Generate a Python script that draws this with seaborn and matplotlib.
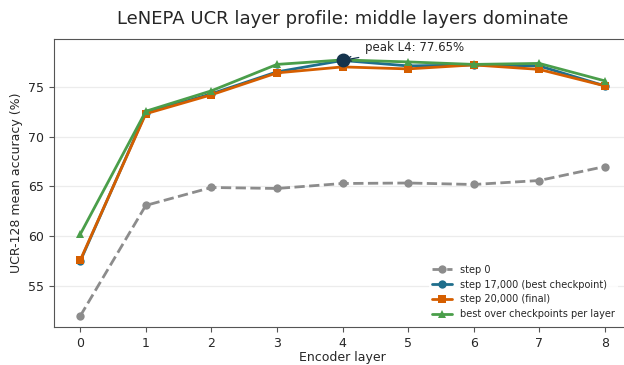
import numpy as np
import pandas as pd
import seaborn as sns
from matplotlib import pyplot as plt

layers = [0, 1, 2, 3, 4, 5, 6, 7, 8]
step0 = [52.0, 63.1, 64.9, 64.8, 65.3, 65.35, 65.2, 65.6, 67.0]
step17k = [57.5, 72.4, 74.3, 76.5, 77.65, 77.1, 77.2, 77.1, 75.1]
step20k = [57.6, 72.3, 74.2, 76.4, 77.0, 76.8, 77.2, 76.75, 75.1]
best_per_layer = [60.2, 72.55, 74.6, 77.25, 77.7, 77.5, 77.25, 77.35, 75.6]

series = [
    ("step 0", step0, "#8c8c8c", "o", "--"),
    ("step 17,000 (best checkpoint)", step17k, "#1f6e8c", "o", "-"),
    ("step 20,000 (final)", step20k, "#d55e00", "s", "-"),
    ("best over checkpoints per layer", best_per_layer, "#4a9e4a", "^", "-"),
]

sns.set_style("ticks")
plt.rcParams['font.family'] = ['DejaVu Sans']

fig = plt.figure(figsize=(6.24, 3.65), dpi=100)
ax = fig.add_axes([54 / 624, 38 / 365, 577 / 624, 288 / 365])

for name, vals, col, mk, ls in series:
    df = pd.DataFrame({"layer": layers, "acc": vals})
    sns.lineplot(data=df, x="layer", y="acc", ax=ax, color=col, marker=mk,
                 linestyle=ls, linewidth=2, markersize=6,
                 markeredgewidth=0, label=name)

# peak marker
peak_i = int(np.argmax(step17k))
ax.plot(layers[peak_i], step17k[peak_i], "o", color="#14334d",
        markersize=9, zorder=5)
ax.annotate(f"peak L{layers[peak_i]}: {step17k[peak_i]:.2f}%",
            xy=(layers[peak_i], step17k[peak_i]),
            xytext=(4.34, 78.95), fontsize=8.5, va="center",
            arrowprops=dict(arrowstyle="->", color="#14334d", lw=0.9))

ax.set_xlim(-0.4, 8.4)
ax.set_ylim(50.9, 79.8)
ax.set_xticks(layers)
ax.set_yticks([55, 60, 65, 70, 75])
ax.grid(axis="y", color="#ececec", linewidth=0.9)
ax.set_axisbelow(True)
for s in ax.spines.values():
    s.set_color("#555555")
ax.spines["right"].set_color("#dddddd")
ax.tick_params(labelsize=9, color="#555555")
ax.set_xlabel("Encoder layer", fontsize=9, labelpad=1)
ax.set_ylabel("UCR-128 mean accuracy (%)", fontsize=9)
ax.set_title("LeNEPA UCR layer profile: middle layers dominate",
             fontsize=13, pad=11)

leg = ax.legend(loc="lower right", fontsize=7, frameon=True,
                bbox_to_anchor=(0.985, 0.0), borderaxespad=0.4)
leg.get_frame().set_edgecolor("none")
leg.get_frame().set_facecolor("white")

fig.savefig("out.png", dpi=100)
